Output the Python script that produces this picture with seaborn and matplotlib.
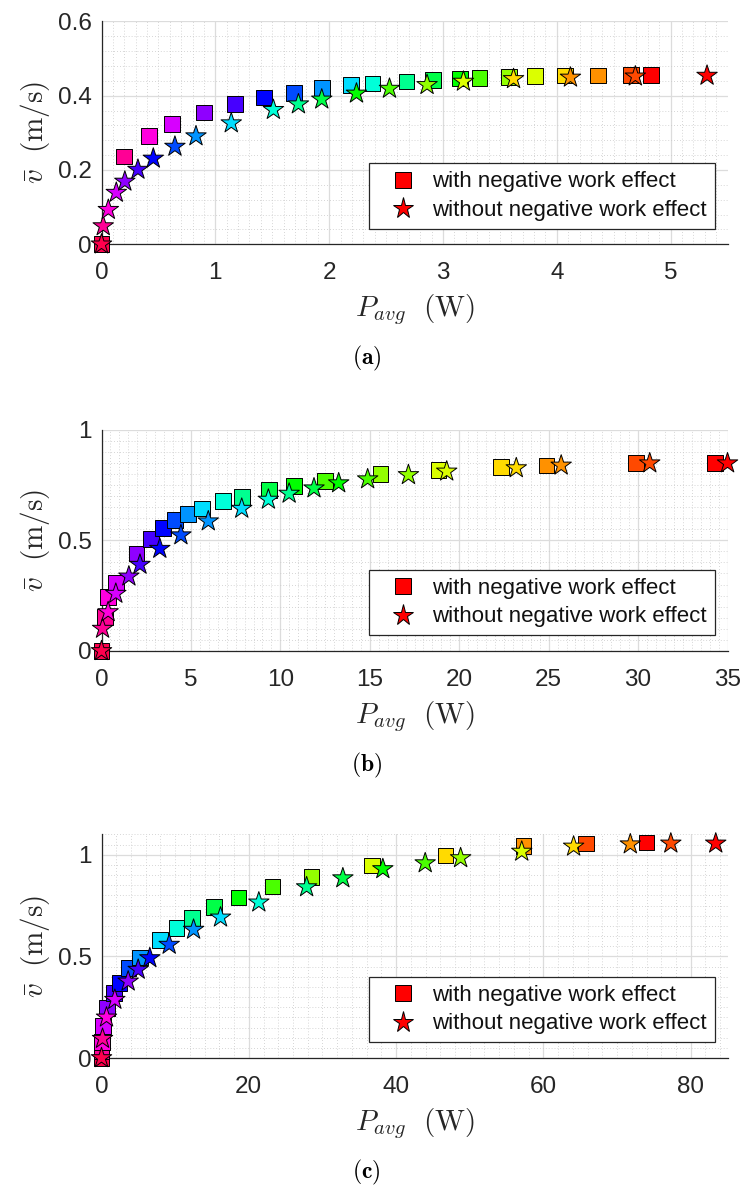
import numpy as np
import pandas as pd
import matplotlib
matplotlib.use("Agg")
import matplotlib.pyplot as plt
from matplotlib.colors import hsv_to_rgb
from matplotlib.lines import Line2D
from matplotlib.ticker import MultipleLocator, FuncFormatter
import seaborn as sns

# ---- data: average power (W) vs. mean speed (m/s) for 21 actuation steps ----
# (a)
p_a_with = [0, 0.20, 0.42, 0.62, 0.90, 1.17, 1.43, 1.69, 1.94, 2.19, 2.38,
            2.68, 2.91, 3.15, 3.32, 3.58, 3.81, 4.07, 4.36, 4.65, 4.83]
v_a_with = [0, 0.236, 0.291, 0.324, 0.355, 0.378, 0.395, 0.408, 0.420, 0.428, 0.433,
            0.438, 0.442, 0.446, 0.448, 0.450, 0.453, 0.454, 0.454, 0.455, 0.455]
p_a_without = [0, 0.015, 0.06, 0.13, 0.205, 0.32, 0.455, 0.645, 0.83, 1.14, 1.51,
               1.73, 1.935, 2.24, 2.53, 2.86, 3.18, 3.62, 4.12, 4.69, 5.32]
v_a_without = [0, 0.049, 0.093, 0.139, 0.169, 0.201, 0.231, 0.263, 0.291, 0.326, 0.362,
               0.377, 0.390, 0.406, 0.419, 0.429, 0.438, 0.445, 0.449, 0.452, 0.454]

# (b)
p_b_with = [0, 0.19, 0.37, 0.80, 1.96, 2.76, 3.45, 4.10, 4.85, 5.60, 6.81,
            7.84, 9.37, 10.78, 12.5, 15.6, 18.84, 22.33, 24.88, 29.9, 34.3]
v_b_with = [0, 0.155, 0.244, 0.307, 0.440, 0.507, 0.556, 0.590, 0.620, 0.643, 0.678,
            0.696, 0.726, 0.744, 0.768, 0.798, 0.818, 0.830, 0.838, 0.848, 0.848]
p_b_without = [0, 0.06, 0.37, 0.80, 1.53, 2.15, 3.26, 4.44, 5.97, 7.84, 9.33,
               10.49, 11.88, 13.26, 14.88, 17.16, 19.3, 23.19, 25.7, 30.65, 35.0]
v_b_without = [0, 0.101, 0.176, 0.259, 0.337, 0.390, 0.462, 0.523, 0.586, 0.643, 0.684,
               0.711, 0.735, 0.758, 0.776, 0.795, 0.811, 0.826, 0.838, 0.848, 0.848]

# (c)
p_c_with = [0, 0.0, 0.05, 0.23, 0.77, 1.69, 2.43, 3.67, 5.2, 7.9, 10.2,
            12.3, 15.25, 18.6, 23.2, 28.5, 36.7, 46.7, 57.3, 65.8, 74.0]
v_c_with = [0, 0.035, 0.078, 0.159, 0.246, 0.320, 0.369, 0.443, 0.495, 0.582, 0.639,
            0.689, 0.743, 0.790, 0.844, 0.890, 0.948, 0.997, 1.043, 1.056, 1.060]
p_c_without = [0, 0.14, 0.68, 1.81, 3.62, 4.98, 6.56, 9.19, 12.5, 16.16, 21.36,
               27.85, 32.77, 38.2, 43.95, 48.76, 57.06, 64.1, 71.8, 77.3, 83.4]
v_c_without = [0, 0.095, 0.200, 0.287, 0.377, 0.435, 0.492, 0.558, 0.632, 0.692, 0.766,
               0.841, 0.885, 0.930, 0.959, 0.984, 1.016, 1.041, 1.052, 1.056, 1.056]

legend_labels = ["with negative work effect", "without negative work effect"]
panel_tags = ["a", "b", "c"]

# ---- style ----
sns.set_theme(style="white")
plt.rcParams["font.family"] = ["Liberation Sans", "DejaVu Sans"]
plt.rcParams["mathtext.fontset"] = "cm"
INK = "#262626"

# one colour per actuation step, hue sweeping from crimson down to red
n_steps = len(p_a_with)
hues = np.linspace(0.95, 0.0, n_steps)
step_colors = [tuple(hsv_to_rgb((h, 1.0, 1.0))) for h in hues]
step_names = [f"s{i}" for i in range(n_steps)]
palette = dict(zip(step_names, step_colors))

SQ_SIZE = 128
STAR_SIZE = 240

panels = [
    dict(pw=p_a_with, vw=v_a_with, po=p_a_without, vo=v_a_without,
         xlim=(0, 5.5), ylim=(0, 0.6), xmaj=1, xmin=0.1, ymaj=0.2, ymin=0.04,
         rect=(0.1368, 0.794, 0.8437, 0.188)),
    dict(pw=p_b_with, vw=v_b_with, po=p_b_without, vo=v_b_without,
         xlim=(0, 35), ylim=(0, 1.0), xmaj=5, xmin=0.5, ymaj=0.5, ymin=0.05,
         rect=(0.1368, 0.4511, 0.8437, 0.1867)),
    dict(pw=p_c_with, vw=v_c_with, po=p_c_without, vo=v_c_without,
         xlim=(0, 85), ylim=(0, 1.1), xmaj=20, xmin=2, ymaj=0.5, ymin=0.05,
         rect=(0.1368, 0.1079, 0.8437, 0.1885)),
]

fig = plt.figure(figsize=(7.42, 11.86), dpi=100)

for k, cfg in enumerate(panels):
    ax = fig.add_axes(cfg["rect"])
    df_with = pd.DataFrame({"P": cfg["pw"], "v": cfg["vw"], "step": step_names})
    df_without = pd.DataFrame({"P": cfg["po"], "v": cfg["vo"], "step": step_names})

    sns.scatterplot(data=df_with, x="P", y="v", hue="step", palette=palette,
                    hue_order=step_names, marker="s", s=SQ_SIZE, edgecolor="black",
                    linewidth=0.7, legend=False, ax=ax, clip_on=False, zorder=3)
    sns.scatterplot(data=df_without, x="P", y="v", hue="step", palette=palette,
                    hue_order=step_names, marker="*", s=STAR_SIZE, edgecolor="black",
                    linewidth=0.7, legend=False, ax=ax, clip_on=False, zorder=4)

    ax.set_xlim(*cfg["xlim"])
    ax.set_ylim(*cfg["ylim"])
    ax.xaxis.set_major_locator(MultipleLocator(cfg["xmaj"]))
    ax.xaxis.set_minor_locator(MultipleLocator(cfg["xmin"]))
    ax.yaxis.set_major_locator(MultipleLocator(cfg["ymaj"]))
    ax.yaxis.set_minor_locator(MultipleLocator(cfg["ymin"]))
    fmt = FuncFormatter(lambda val, _: f"{val:g}")
    ax.xaxis.set_major_formatter(fmt)
    ax.yaxis.set_major_formatter(fmt)

    ax.grid(which="major", color="#dcdcdc", linewidth=0.9, linestyle="-", zorder=0)
    ax.grid(which="minor", color="#c8c8c8", linewidth=0.6, linestyle=(0, (1, 2.5)), zorder=0)
    ax.set_axisbelow(True)

    for side in ("top", "right"):
        ax.spines[side].set_visible(False)
    for side in ("left", "bottom"):
        ax.spines[side].set_color(INK)
        ax.spines[side].set_linewidth(0.9)

    ax.tick_params(which="major", direction="in", length=4, width=0.8, color=INK,
                   labelsize=17.5, labelcolor=INK)
    ax.tick_params(axis="x", which="major", pad=13)
    ax.tick_params(axis="y", which="major", pad=7)
    ax.tick_params(which="minor", length=0)

    ax.set_xlabel(r"$P_{avg}\ \ \mathrm{(W)}$", fontsize=21, color=INK, labelpad=6)
    ax.set_ylabel(r"$\bar{v}\ \ \mathrm{(m/s)}$", fontsize=21, color=INK, labelpad=4)

    handles = [
        Line2D([], [], linestyle="none", marker="s", markersize=np.sqrt(SQ_SIZE),
               markerfacecolor=step_colors[-1], markeredgecolor="black", markeredgewidth=0.7),
        Line2D([], [], linestyle="none", marker="*", markersize=np.sqrt(STAR_SIZE),
               markerfacecolor=step_colors[-1], markeredgecolor="black", markeredgewidth=0.7),
    ]
    leg = ax.legend(handles, legend_labels, loc="lower left", bbox_to_anchor=(0.427, 0.07),
                    borderaxespad=0, fontsize=16, frameon=True, fancybox=False,
                    borderpad=0.36, labelspacing=0.33, handlelength=2.4, handletextpad=0.1)
    leg.get_frame().set_edgecolor(INK)
    leg.get_frame().set_linewidth(0.9)
    leg.get_frame().set_facecolor("white")
    leg.get_frame().set_alpha(1)
    for t in leg.get_texts():
        t.set_color("#111111")
    leg.set_zorder(10)

    bottom_px = (1 - cfg["rect"][1]) * 1186
    fig.text(0.494, 1 - (bottom_px + 114) / 1186, rf"$(\mathbf{{{panel_tags[k]}}})$",
             ha="center", va="center", fontsize=17, color="black")

fig.savefig("out.png", dpi=100)
